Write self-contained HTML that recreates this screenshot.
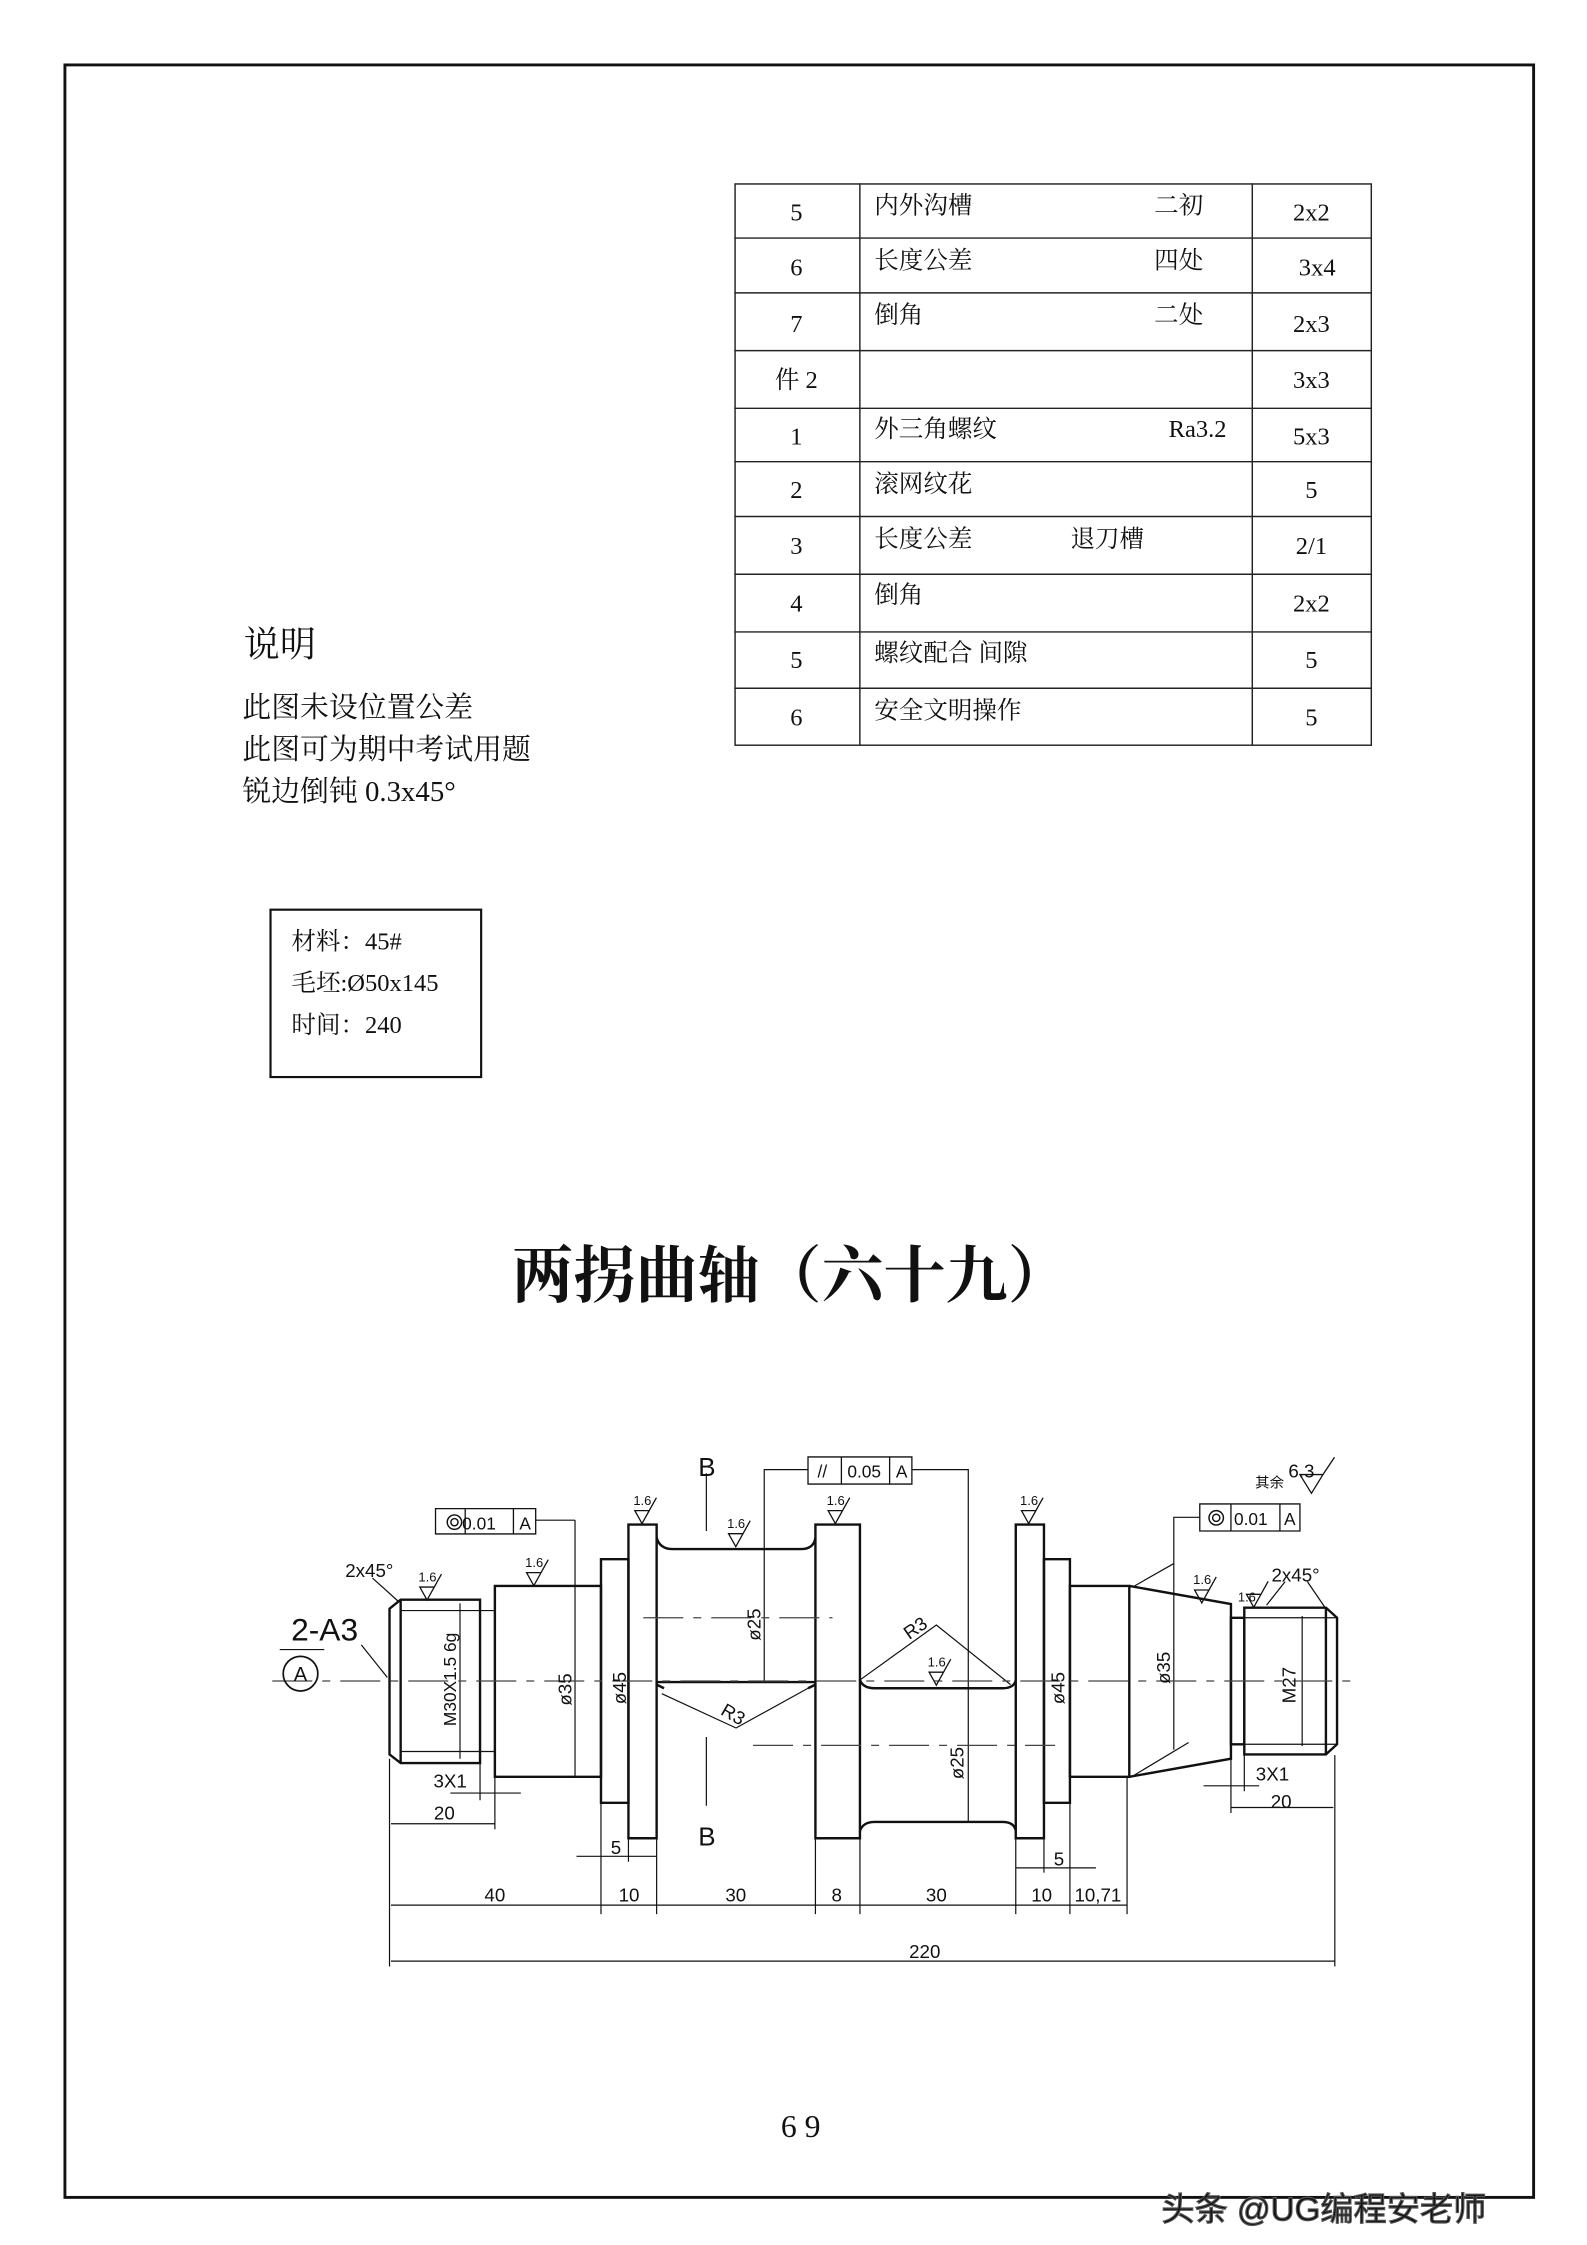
<!DOCTYPE html>
<html><head><meta charset="utf-8"><style>
html,body{margin:0;padding:0;background:#fff;}
svg{display:block;}
text{font-family:"Liberation Serif","Noto Serif CJK SC","Noto Sans CJK SC",serif;fill:#111;}
.s{font-family:"Liberation Sans","Noto Sans CJK SC",sans-serif;}
</style></head><body>
<svg width="1587" height="2245" viewBox="0 0 1100 1556" preserveAspectRatio="none" xmlns="http://www.w3.org/2000/svg">
<rect x="0" y="0" width="1100" height="1556" fill="#fff"/>
<rect x="45" y="45" width="1018" height="1478" fill="none" stroke="#111" stroke-width="2"/>

<g stroke="#222" stroke-width="1" fill="none">
<rect x="509.5" y="127.5" width="441" height="389"/>
<line x1="596" y1="127" x2="596" y2="516"/><line x1="868" y1="127" x2="868" y2="516"/>
<line x1="509" y1="165" x2="951" y2="165"/><line x1="509" y1="203" x2="951" y2="203"/>
<line x1="509" y1="243" x2="951" y2="243"/><line x1="509" y1="283" x2="951" y2="283"/>
<line x1="509" y1="320" x2="951" y2="320"/><line x1="509" y1="358" x2="951" y2="358"/>
<line x1="509" y1="398" x2="951" y2="398"/><line x1="509" y1="438" x2="951" y2="438"/>
<line x1="509" y1="477" x2="951" y2="477"/>
</g>
<g font-size="17">
<text x="552" y="153" text-anchor="middle">5</text><text x="606" y="148">内外沟槽</text><text x="800" y="148">二初</text><text x="909" y="153" text-anchor="middle">2x2</text>
<text x="552" y="191" text-anchor="middle">6</text><text x="606" y="186">长度公差</text><text x="800" y="186">四处</text><text x="913" y="191" text-anchor="middle">3x4</text>
<text x="552" y="230" text-anchor="middle">7</text><text x="606" y="224">倒角</text><text x="800" y="224">二处</text><text x="909" y="230" text-anchor="middle">2x3</text>
<text x="552" y="269" text-anchor="middle">件 2</text><text x="909" y="269" text-anchor="middle">3x3</text>
<text x="552" y="308" text-anchor="middle">1</text><text x="606" y="303">外三角螺纹</text><text x="810" y="303">Ra3.2</text><text x="909" y="308" text-anchor="middle">5x3</text>
<text x="552" y="345" text-anchor="middle">2</text><text x="606" y="341">滚网纹花</text><text x="909" y="345" text-anchor="middle">5</text>
<text x="552" y="384" text-anchor="middle">3</text><text x="606" y="379">长度公差</text><text x="742" y="379">退刀槽</text><text x="909" y="384" text-anchor="middle">2/1</text>
<text x="552" y="424" text-anchor="middle">4</text><text x="606" y="418">倒角</text><text x="909" y="424" text-anchor="middle">2x2</text>
<text x="552" y="463" text-anchor="middle">5</text><text x="606" y="458">螺纹配合 间隙</text><text x="909" y="463" text-anchor="middle">5</text>
<text x="552" y="503" text-anchor="middle">6</text><text x="606" y="498">安全文明操作</text><text x="909" y="503" text-anchor="middle">5</text>
</g>

<text x="169" y="455" font-size="25">说明</text>
<text x="168" y="497" font-size="20">此图未设位置公差</text>
<text x="168" y="526" font-size="20">此图可为期中考试用题</text>
<text x="168" y="555" font-size="20">锐边倒钝 0.3x45°</text>

<rect x="187.5" y="630.5" width="146" height="116" fill="none" stroke="#111" stroke-width="1.5"/>
<text x="202" y="658" font-size="17">材料：45#</text>
<text x="202" y="687" font-size="17">毛坯:Ø50x145</text>
<text x="202" y="716" font-size="17">时间：240</text>

<text x="548" y="899" font-size="43" font-weight="bold" text-anchor="middle">两拐曲轴（六十九）</text>
<text x="555" y="1481" font-size="22" text-anchor="middle">6 9</text>

<g transform="translate(173.3,986) scale(0.5143,0.2505)" fill="none" stroke="#111">
<g stroke-width="2.4">
<path vector-effect="non-scaling-stroke" d="M188,515 L203,490 L310,490 L310,942 L203,942 L188,918 Z"/>
<line vector-effect="non-scaling-stroke" x1="203" y1="490" x2="203" y2="942"/>
<rect vector-effect="non-scaling-stroke" x="330" y="452" width="143" height="528"/>
<rect vector-effect="non-scaling-stroke" x="473" y="378" width="37" height="674"/>
<rect vector-effect="non-scaling-stroke" x="510" y="282" width="38" height="868"/>
<path vector-effect="non-scaling-stroke" d="M548,318 Q552,350 570,350 L742,350 Q760,350 762,318"/>
<path vector-effect="non-scaling-stroke" d="M548,718 L762,718"/>
<path vector-effect="non-scaling-stroke" d="M548,725 L558,735 M752,735 L762,725"/>
<rect vector-effect="non-scaling-stroke" x="762" y="282" width="60" height="868"/>
<path vector-effect="non-scaling-stroke" d="M822,712 Q826,735 842,735 L1014,735 Q1030,735 1032,712"/>
<path vector-effect="non-scaling-stroke" d="M822,1130 Q826,1105 842,1105 L1014,1105 Q1030,1105 1032,1130"/>
<rect vector-effect="non-scaling-stroke" x="1032" y="282" width="38" height="868"/>
<rect vector-effect="non-scaling-stroke" x="1070" y="378" width="35" height="674"/>
<rect vector-effect="non-scaling-stroke" x="1105" y="452" width="80" height="528"/>
<path vector-effect="non-scaling-stroke" d="M1185,452 L1322,502 L1322,930 L1185,980"/>
<rect vector-effect="non-scaling-stroke" x="1322" y="540" width="18" height="350"/>
<path vector-effect="non-scaling-stroke" d="M1340,512 L1450,512 L1465,540 L1465,890 L1450,918 L1340,918 Z"/>
<line vector-effect="non-scaling-stroke" x1="1450" y1="512" x2="1450" y2="918"/>
</g>
<g stroke-width="1.2">
<path vector-effect="non-scaling-stroke" d="M203,520 L330,520 M203,910 L330,910 M283,500 L283,930 M1340,540 L1465,540 M1340,890 L1465,890 M1418,535 L1418,895"/>
<path vector-effect="non-scaling-stroke" d="M693,350 L693,718 M968,735 L968,1105 M438,270 L438,980 M385,270 L438,270"/>
<path vector-effect="non-scaling-stroke" d="M752,130 L693,130 L693,350 M892,130 L968,130 L968,735"/>
<path vector-effect="non-scaling-stroke" d="M1280,262 L1245,262 L1245,905 M1192,452 L1245,390 M1192,975 L1265,885"/>
<path vector-effect="non-scaling-stroke" d="M555,750 L655,845 L752,735 M822,712 L925,560 L1025,725"/>
<path vector-effect="non-scaling-stroke" d="M615,140 L615,300 M615,870 L615,1060"/>
<path vector-effect="non-scaling-stroke" d="M150,615 L185,705 M40,628 L100,628"/>
<path vector-effect="non-scaling-stroke" d="M165,430 L200,495 M1370,505 L1395,440 M1450,515 L1425,440"/>
<path vector-effect="non-scaling-stroke" d="M270,1025 L365,1025 M190,1110 L330,1110 M440,1200 L548,1200 M1032,1232 L1140,1232 M1285,1005 L1360,1005 M1322,1065 L1460,1065"/>
<path vector-effect="non-scaling-stroke" d="M190,1335 L1182,1335 M190,1490 L1462,1490"/>
<path vector-effect="non-scaling-stroke" d="M188,930 L188,1505 M1462,920 L1462,1505 M330,980 L330,1125 M310,940 L310,1045 M473,1050 L473,1360 M510,1150 L510,1215 M548,1150 L548,1360 M762,1150 L762,1360 M822,1150 L822,1360 M1032,1150 L1032,1360 M1070,1150 L1070,1245 M1105,1050 L1105,1360 M1182,980 L1182,1360 M1322,930 L1322,1080 M1340,920 L1340,1020"/>
</g>
<g stroke-width="1.2" stroke-dasharray="40,10,8,10" stroke="#444">
<path vector-effect="non-scaling-stroke" d="M30,715 L1495,715 M530,540 L785,540 M678,893 L1085,893"/>
</g>
<g stroke-width="1.3">
<rect vector-effect="non-scaling-stroke" x="250" y="238" width="135" height="70"/>
<path vector-effect="non-scaling-stroke" d="M290,238 L290,308 M355,238 L355,308"/>
<rect vector-effect="non-scaling-stroke" x="752" y="95" width="140" height="75"/>
<path vector-effect="non-scaling-stroke" d="M797,95 L797,170 M862,95 L862,170"/>
<rect vector-effect="non-scaling-stroke" x="1280" y="225" width="135" height="75"/>
<path vector-effect="non-scaling-stroke" d="M1322,225 L1322,300 M1388,225 L1388,300"/>
</g>
</g>

<circle cx="208.3" cy="1160" r="12" fill="none" stroke="#111" stroke-width="1.2"/>
<text class="s" x="208.3" y="1165" font-size="14" text-anchor="middle">A</text>
<text class="s" x="225" y="1137" font-size="22" text-anchor="middle" fill="#333">2-A3</text>

<g fill="none" stroke="#111" stroke-width="1">
<circle cx="315" cy="1055" r="5"/><circle cx="315" cy="1055" r="2.5"/>
<circle cx="843" cy="1052" r="5"/><circle cx="843" cy="1052" r="2.5"/>
</g>
<g class="s" font-size="12">
<text class="s" x="332" y="1060" text-anchor="middle">0.01</text><text class="s" x="364" y="1060" text-anchor="middle">A</text>
<text class="s" x="570" y="1024" text-anchor="middle">//</text><text class="s" x="599" y="1024" text-anchor="middle">0.05</text><text class="s" x="625" y="1024" text-anchor="middle">A</text>
<text class="s" x="867" y="1057" text-anchor="middle">0.01</text><text class="s" x="894" y="1057" text-anchor="middle">A</text>
</g>

<g fill="none" stroke="#111" stroke-width="0.9">
<path d="M440,1047 L445,1056 L450,1047 Z M450,1047 L455,1038"/>
<path d="M574,1047 L579,1056 L584,1047 Z M584,1047 L589,1038"/>
<path d="M708,1047 L713,1056 L718,1047 Z M718,1047 L723,1038"/>
<path d="M505,1063 L510,1072 L515,1063 Z M515,1063 L520,1054"/>
<path d="M365,1090 L370,1099 L375,1090 Z M375,1090 L380,1081"/>
<path d="M291,1100 L296,1109 L301,1100 Z M301,1100 L306,1091"/>
<path d="M644,1159 L649,1168 L654,1159 Z M654,1159 L659,1150"/>
<path d="M828,1102 L833,1111 L838,1102 Z M838,1102 L843,1093"/>
<path d="M864,1105 L869,1114 L874,1105 Z M874,1105 L879,1096"/>
<path d="M901,1022 L909,1035 L917,1022 Z M917,1022 L925,1010"/>
</g>
<g class="s" font-size="9">
<text class="s" x="439" y="1043">1.6</text><text class="s" x="573" y="1043">1.6</text><text class="s" x="707" y="1043">1.6</text>
<text class="s" x="504" y="1059">1.6</text><text class="s" x="364" y="1086">1.6</text><text class="s" x="290" y="1096">1.6</text>
<text class="s" x="643" y="1155">1.6</text><text class="s" x="827" y="1098">1.6</text><text class="s" x="858" y="1110">1.6</text>
</g>
<text class="s" x="870" y="1031" font-size="10">其余</text>
<text class="s" x="893" y="1024" font-size="13">6.3</text>

<g class="s" font-size="13" fill="#222">
<text class="s" x="256" y="1093" text-anchor="middle">2x45°</text>
<text class="s" x="898" y="1096" text-anchor="middle">2x45°</text>
<text class="s" x="490" y="1023" font-size="18" text-anchor="middle">B</text>
<text class="s" x="490" y="1279" font-size="18" text-anchor="middle">B</text>
<text class="s" x="343" y="1318" text-anchor="middle">40</text>
<text class="s" x="436" y="1318" text-anchor="middle">10</text>
<text class="s" x="510" y="1318" text-anchor="middle">30</text>
<text class="s" x="580" y="1318" text-anchor="middle">8</text>
<text class="s" x="649" y="1318" text-anchor="middle">30</text>
<text class="s" x="722" y="1318" text-anchor="middle">10</text>
<text class="s" x="761" y="1318" text-anchor="middle">10,71</text>
<text class="s" x="641" y="1357" text-anchor="middle">220</text>
<text class="s" x="308" y="1261" text-anchor="middle">20</text>
<text class="s" x="312" y="1239" text-anchor="middle">3X1</text>
<text class="s" x="427" y="1285" text-anchor="middle">5</text>
<text class="s" x="734" y="1293" text-anchor="middle">5</text>
<text class="s" x="882" y="1234" text-anchor="middle">3X1</text>
<text class="s" x="888" y="1253" text-anchor="middle">20</text>
<text class="s" transform="translate(527,1126) rotate(-90)" text-anchor="middle">ø25</text>
<text class="s" transform="translate(396,1171) rotate(-90)" text-anchor="middle">ø35</text>
<text class="s" transform="translate(434,1170) rotate(-90)" text-anchor="middle">ø45</text>
<text class="s" transform="translate(668,1222) rotate(-90)" text-anchor="middle">ø25</text>
<text class="s" transform="translate(738,1170) rotate(-90)" text-anchor="middle">ø45</text>
<text class="s" transform="translate(811,1156) rotate(-90)" text-anchor="middle">ø35</text>
<text class="s" transform="translate(898,1168) rotate(-90)" text-anchor="middle">M27</text>
<text class="s" transform="translate(316,1164) rotate(-90)" font-size="12" text-anchor="middle">M30X1.5 6g</text>
<text class="s" transform="translate(506,1192) rotate(30)" text-anchor="middle">R3</text>
<text class="s" transform="translate(637,1132) rotate(-35)" text-anchor="middle">R3</text>
</g>

<text class="s" x="805" y="1539" font-size="23" fill="#fff" stroke="#555" stroke-width="0.8">头条 @UG编程安老师</text>
</svg>
</body></html>
